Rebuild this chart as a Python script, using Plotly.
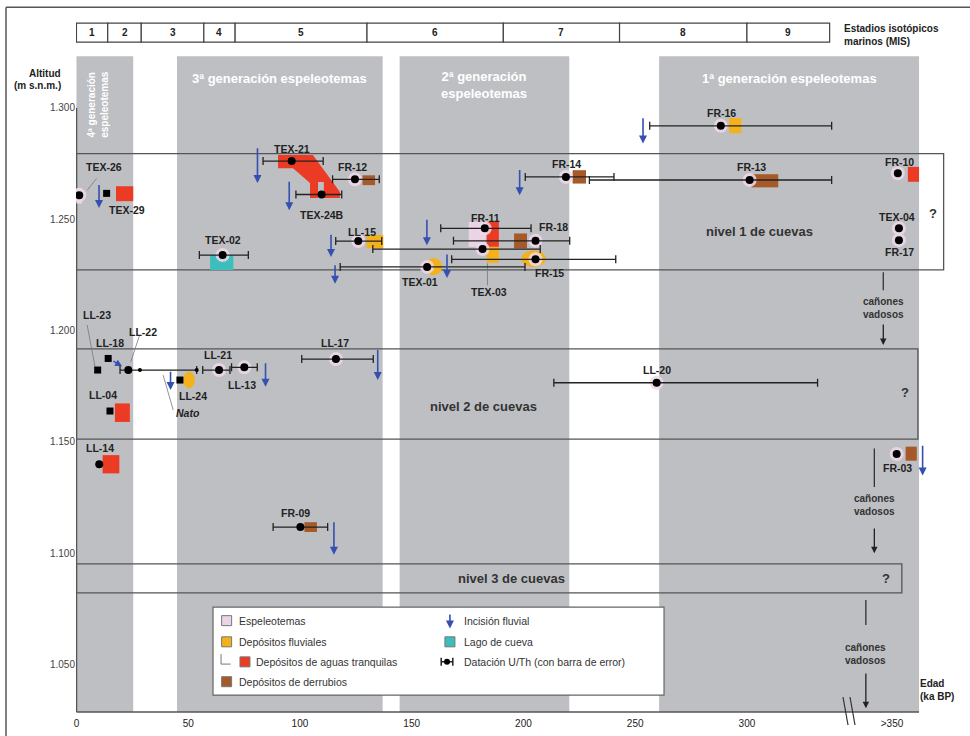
import plotly.graph_objects as go

FONT = "Liberation Sans, Arial, Helvetica, sans-serif"

# ---------------- data ----------------
mis_stage = ['1', '2', '3', '4', '5', '6', '7', '8', '9']
mis_bound = [0, 14, 29, 57, 71, 130, 191, 243, 300, 337]

gen_label = ['4ª generación<br>espeleotemas', '3ª generación espeleotemas',
             '2ª generación<br>espeleotemas', '1ª generación espeleotemas']
gen_start = [0, 45, 144.6, 260.7]
gen_end = [25.4, 137, 220.5, 377]

level_label = ['nivel 1 de cuevas', 'nivel 2 de cuevas', 'nivel 3 de cuevas']
level_low = [1227.3, 1151.3, 1082.3]
level_high = [1279.4, 1191.8, 1095.3]
level_end = [388, 376.5, 369.3]
level_label_age = [305.4, 182.3, 194.6]
level_label_alt = [1244.3, 1166.1, 1088.8]
level_q_age = [383.1, 370.7, 362.2]
level_q_alt = [1252.6, 1172.1, 1088.8]

# U/Th dated samples: age (ka), altitude (m), error range (ka)
dated_name = ['TEX-26', 'TEX-21', 'TEX-24B', 'FR-12', 'TEX-02', 'LL-15', 'FR-16', 'FR-14', 'FR-13',
              'FR-10', 'TEX-04', 'FR-17', 'FR-11', 'FR-18', 'TEX-03', 'FR-15', 'TEX-01',
              'LL-22', 'LL-21', 'LL-13', 'LL-17', 'LL-20', 'LL-14', 'FR-03', 'FR-09']
dated_age = [1.25, 96.3, 109.7, 124.6, 65.4, 126.1, 288.3, 219, 301.2,
             367.5, 368, 368, 182.7, 205.4, 181.7, 205.4, 156.9,
             23.2, 63.8, 75.1, 116.1, 259.6, 10.2, 367, 100.2]
dated_alt = [1260.8, 1276.1, 1261.1, 1267.9, 1233.9, 1240.2, 1291.9, 1269, 1267.6,
             1270.6, 1245.9, 1240.6, 1245.9, 1240.3, 1236.6, 1232, 1228.6,
             1182.3, 1182.3, 1183.5, 1187.2, 1176.6, 1140, 1144.6, 1111.8]
dated_min = [None, 83.5, 98.2, 114.6, 55, 116, 256.5, 200.8, 229.5,
             None, None, None, 163, 168.7, 132.6, 167.9, 118,
             19.5, 56.5, 69.4, 100.8, 213.6, None, None, 88]
dated_max = [None, 110.4, 118.7, 135.5, 76.9, 136.6, 337.9, 240.5, 337.9,
             None, None, None, 203.4, 220.7, 207.5, 241.3, 200.7,
             53.8, 68.7, 80.9, 132.8, 331.6, None, None, 112.4]
dated_halo = [1, 0, 0, 1, 1, 1, 1, 1, 1, 1, 1, 1, 1, 1, 1, 1, 1, 0, 1, 1, 1, 1, 0, 1, 0]

small_dot_age = [28.4, 53.8]
small_dot_alt = [1182.3, 1182.3]

# other dated samples (square symbol)
square_name = ['TEX-29', 'LL-23', 'LL-18', 'LL-24', 'LL-04']
square_age = [13.5, 9.5, 14.2, 46.3, 15]
square_alt = [1261.6, 1182.3, 1187.5, 1177.8, 1163.9]

# sample labels
label_name = ['TEX-26', 'TEX-29', 'TEX-21', 'TEX-24B', 'FR-12', 'TEX-02', 'LL-15', 'FR-16', 'FR-14',
              'FR-13', 'FR-10', 'TEX-04', 'FR-17', 'FR-11', 'FR-18', 'TEX-03', 'FR-15', 'TEX-01',
              'LL-23', 'LL-18', 'LL-22', 'LL-21', 'LL-13', 'LL-24', 'LL-17', 'LL-20', 'LL-04',
              'LL-14', 'FR-03', 'FR-09']
label_age = [12.3, 22.5, 96.4, 109.7, 123.7, 65.4, 127.6, 288.6, 219.4,
             302.1, 368.4, 367.1, 368.1, 183.1, 213.5, 184.7, 211.8, 153.5,
             9, 15, 29.9, 63.4, 73.9, 52.3, 115.7, 259.6, 12,
             10.5, 367.2, 97.9]
label_alt = [1273.5, 1254.3, 1281.5, 1251.8, 1273.5, 1240.6, 1244.3, 1297.5, 1275,
             1273.5, 1275.8, 1251.1, 1235.4, 1250.4, 1246.6, 1217.4, 1225.9, 1221.9,
             1207, 1194.5, 1199.5, 1189, 1175.5, 1170.7, 1194.3, 1182.3, 1171,
             1147.1, 1138.2, 1118.3]

# leader lines (age0, alt0, age1, alt1)
leader_age0 = [9, 183.9, 4.8, 28.1, 43.3]
leader_alt0 = [1268.3, 1230.2, 1202.5, 1197.5, 1164.3]
leader_age1 = [4.8, 183.9, 8.3, 24.3, 38.8]
leader_alt1 = [1263, 1220.4, 1183.8, 1186, 1180]

# deposits: kind, age range, altitude range, shape
dep_kind = ['red', 'red', 'red', 'red', 'red',
            'brown', 'brown', 'brown', 'brown', 'brown', 'brown',
            'orange', 'orange', 'orange', 'orange', 'orange', 'orange',
            'teal', 'pink', 'pink']
dep_age0 = [17.7, 372, 183.6, 17.2, 11.7, 128, 222, 302, 195.8, 371, 102,
            129.8, 292, 183.6, 199, 156, 47.8, 59.8, 175.5, 0]
dep_age1 = [25.4, 377, 189, 23.9, 19.2, 133.6, 228, 314, 201.6, 376, 107.6,
            137.3, 297.5, 189, 210, 163.6, 53, 70.2, 183.1, 2.5]
dep_alt0 = [1258.1, 1266.8, 1237.6, 1159, 1135.9, 1265.3, 1266, 1264.3, 1236.9, 1141.6, 1109.6,
            1237, 1288.6, 1230.4, 1228.6, 1224.9, 1174, 1227.2, 1237.6, 1257]
dep_alt1 = [1264.8, 1273.5, 1248.8, 1167.3, 1144.1, 1269.7, 1272, 1270.2, 1243.6, 1147.9, 1114,
            1242.9, 1295.4, 1237.6, 1236, 1232.5, 1181.5, 1233.9, 1248.8, 1264]
dep_shape = ['rect'] * 14 + ['circle', 'circle', 'circle', 'rect', 'rect', 'rect']

# still-water deposit band TEX-21 -> TEX-24B
band_age = [90.2, 105.8, 117.9, 117.9, 110.7, 110.7, 108.1, 108.1, 104.5, 104.5, 96.9, 90.2]
band_alt = [1278.8, 1278.8, 1262.2, 1259.5, 1259.5, 1266.7, 1266.7, 1259.5, 1259.5, 1266.2, 1272.9, 1272.9]

# fluvial incision arrows
inc_age = [10.1, 81, 95.2, 113.9, 115.7, 253.5, 198.3, 156.8, 165.8, 42.1, 84.6, 134.8, 378.6, 115.2]
inc_top = [1266, 1282.5, 1267.5, 1243.7, 1230, 1296, 1272.8, 1250.4, 1234.8, 1182.2, 1186, 1192, 1149, 1114.6]
inc_bot = [1255, 1266.2, 1254, 1233, 1221, 1284, 1260.8, 1238.3, 1223.6, 1173.3, 1174.8, 1177.8, 1135, 1099.4]
inc_diag_from = (15.9, 1186.7)
inc_diag_to = (20.4, 1184.0)

# vadose canyons
can_age = [361, 357, 353.2]
can_line_top = [1226.2, 1147.1, 1079.1]
can_line_bot = [1218.1, 1129.8, 1067.9]
can_text_alt = [1210.3, 1121.5, 1054.8]
can_arrow_top = [1203.4, 1111.8, 1046.7]
can_arrow_bot = [1193.5, 1100.1, 1030.5]

age_ticks = [0, 50, 100, 150, 200, 250, 300, 364.9]
age_ticktext = ['0', '50', '100', '150', '200', '250', '300', '>350']
alt_ticks = [1050, 1100, 1150, 1200, 1250, 1300]
alt_ticktext = ['1.050', '1.100', '1.150', '1.200', '1.250', '1.300']

AXIS_BOTTOM = 1028.8
BAND_TOP = 1323.2
AXIS_END = 377
HEADER_LOW, HEADER_HIGH = 1329.5, 1338.0

# ---------------- styles ----------------
GRAY = '#bdbfc3'
COL = {'red': '#ec3b24', 'brown': '#a65a2a', 'orange': '#f3b21b', 'teal': '#3dbdbb', 'pink': '#ead4e6'}
BLUE = '#3550b0'
DARK = '#222222'

shapes = []
ann = []


def txt(text, x, y, size=10.5, color=DARK, bold=True, xanchor='center', xref='x', yref='y', **kw):
    t = f"<b>{text}</b>" if bold else text
    ann.append(dict(text=t, x=x, y=y, xref=xref, yref=yref, showarrow=False, xanchor=xanchor,
                    yanchor='middle', font=dict(family=FONT, size=size, color=color), **kw))


def line(x0, y0, x1, y1, color='#444', width=1.2, xref='x', yref='y'):
    shapes.append(dict(type='line', x0=x0, y0=y0, x1=x1, y1=y1, xref=xref, yref=yref,
                       line=dict(color=color, width=width), layer='below'))


def arrow(x, y_from, y_to, color, width=1.5, x_from=None, head=2):
    ann.append(dict(x=x, y=y_to, ax=x if x_from is None else x_from, ay=y_from, xref='x', yref='y',
                    axref='x', ayref='y', text='', showarrow=True, arrowhead=head, arrowsize=1,
                    arrowwidth=width, arrowcolor=color, standoff=0, startstandoff=0))


# generation bands
for s, e in zip(gen_start, gen_end):
    shapes.append(dict(type='rect', x0=s, x1=e, y0=AXIS_BOTTOM, y1=BAND_TOP, xref='x', yref='y',
                       fillcolor=GRAY, line=dict(width=0), layer='below'))
txt(gen_label[0], 9.8, 1301.5, size=10, color='white', textangle=-90)
txt(gen_label[1], (gen_start[1] + gen_end[1]) / 2, 1313.3, size=13, color='white')
txt(gen_label[2], (gen_start[2] + gen_end[2]) / 2, 1310.3, size=13, color='white')
txt(gen_label[3], (gen_start[3] + gen_end[3]) / 2, 1313.3, size=13, color='white')

# MIS header
for i, st in enumerate(mis_stage):
    shapes.append(dict(type='rect', x0=mis_bound[i], x1=mis_bound[i + 1], y0=HEADER_LOW, y1=HEADER_HIGH,
                       xref='x', yref='y', fillcolor='white', line=dict(color='#444', width=1.2), layer='below'))
    txt(st, (mis_bound[i] + mis_bound[i + 1]) / 2, (HEADER_LOW + HEADER_HIGH) / 2, size=10)
txt('Estadios isotópicos', 342.5, 1335.8, size=10, xanchor='left')
txt('marinos (MIS)', 342.5, 1329.9, size=10, xanchor='left')

# cave levels
for lo, hi, en in zip(level_low, level_high, level_end):
    shapes.append(dict(type='rect', x0=0, x1=en, y0=lo, y1=hi, xref='x', yref='y',
                       line=dict(color='#555', width=1.3), fillcolor='rgba(0,0,0,0)', layer='below'))
for lab, a, h in zip(level_label, level_label_age, level_label_alt):
    txt(lab, a, h, size=13, color='#333')
for a, h in zip(level_q_age, level_q_alt):
    txt('?', a, h, size=13, color='#333')

# axes lines
line(0, AXIS_BOTTOM, 0, 1300, color='#555', width=1.6)
line(0, AXIS_BOTTOM, AXIS_END, AXIS_BOTTOM, color='#555', width=1.6)
# axis break marks (paper coordinates)
for x0 in (843, 850):
    shapes.append(dict(type='line', xref='paper', yref='paper', x0=(x0 - 76) / 894, y0=(716 - 697) / 716,
                       x1=(x0 + 5 - 76) / 894, y1=(716 - 725) / 716, line=dict(color='#333', width=1.2)))

# frame
shapes.append(dict(type='line', xref='paper', yref='paper', x0=-0.0783, x1=-0.0783, y0=0.990, y1=-0.03,
                   line=dict(color='#555', width=1.5)))
shapes.append(dict(type='line', xref='paper', yref='paper', x0=-0.0783, x1=1.0, y0=0.990, y1=0.990,
                   line=dict(color='#555', width=1.5)))

# deposits
for k, a0, a1, h0, h1, sh in zip(dep_kind, dep_age0, dep_age1, dep_alt0, dep_alt1, dep_shape):
    shapes.append(dict(type=sh, x0=a0, x1=a1, y0=h0, y1=h1, xref='x', yref='y',
                       fillcolor=COL[k], line=dict(width=0), layer='below'))

# leader lines
for a0, h0, a1, h1 in zip(leader_age0, leader_alt0, leader_age1, leader_alt1):
    line(a0, h0, a1, h1, color='#777', width=0.8)

# canyons
for a, lt, lb, ta, at, ab in zip(can_age, can_line_top, can_line_bot, can_text_alt, can_arrow_top, can_arrow_bot):
    line(a, lt, a, lb, color='#333', width=1.3)
    txt('cañones<br>vadosos', a, ta, size=10, color='#333')
    arrow(a, at, ab, '#222', width=1.3)

# incision arrows
for a, t, b in zip(inc_age, inc_top, inc_bot):
    arrow(a, t, b, BLUE, width=1.6)
arrow(inc_diag_to[0], inc_diag_from[1], inc_diag_to[1], BLUE, width=1.4, x_from=inc_diag_from[0])

# legend box
shapes.append(dict(type='rect', x0=61.1, x1=262.9, y0=1036.4, y1=1075.9, xref='x', yref='y',
                   fillcolor='white', line=dict(color='#666', width=1.2), layer='below'))

fig = go.Figure()

# still-water band
fig.add_trace(go.Scatter(x=band_age, y=band_alt, fill='toself', fillcolor=COL['red'], mode='lines',
                         line=dict(width=0, color=COL['red']), hoverinfo='skip', showlegend=False))

# halos
hx = [a for a, f in zip(dated_age, dated_halo) if f]
hy = [h for h, f in zip(dated_alt, dated_halo) if f]
fig.add_trace(go.Scatter(x=hx, y=hy, mode='markers', marker=dict(size=14, color='rgba(238,216,234,0.85)'),
                         hoverinfo='skip', showlegend=False))

# dated with error bars
ex, ey, ep, em = [], [], [], []
nx, ny = [], []
for a, h, lo, hi in zip(dated_age, dated_alt, dated_min, dated_max):
    if lo is None:
        nx.append(a); ny.append(h)
    else:
        ex.append(a); ey.append(h); ep.append(hi - a); em.append(a - lo)
fig.add_trace(go.Scatter(x=ex, y=ey, mode='markers', marker=dict(size=8, color='black'),
                         error_x=dict(type='data', symmetric=False, array=ep, arrayminus=em,
                                      color='#222', thickness=1.3, width=4),
                         showlegend=False, hoverinfo='skip'))
fig.add_trace(go.Scatter(x=nx, y=ny, mode='markers', marker=dict(size=8, color='black'),
                         showlegend=False, hoverinfo='skip'))
fig.add_trace(go.Scatter(x=small_dot_age, y=small_dot_alt, mode='markers', marker=dict(size=4, color='black'),
                         showlegend=False, hoverinfo='skip'))
fig.add_trace(go.Scatter(x=square_age, y=square_alt, mode='markers',
                         marker=dict(size=7, color='black', symbol='square'),
                         showlegend=False, hoverinfo='skip'))

# sample labels
for n, a, h in zip(label_name, label_age, label_alt):
    txt(n, a, h, size=10.5)
txt('<i>Nato</i>', 50, 1162.8, size=10.5)

# legend glyphs
leg_sw_x = [67.2, 67.2, 75.4, 67.2, 167.1]
leg_sw_y = [1069.8, 1060.3, 1051.3, 1042.4, 1060.3]
leg_sw_c = [COL['pink'], COL['orange'], COL['red'], COL['brown'], COL['teal']]
fig.add_trace(go.Scatter(x=leg_sw_x, y=leg_sw_y, mode='markers',
                         marker=dict(size=10, symbol='square', color=leg_sw_c, line=dict(color='#777', width=1)),
                         showlegend=False, hoverinfo='skip'))
fig.add_trace(go.Scatter(x=[165.8], y=[1051.3], mode='markers', marker=dict(size=6, color='black'),
                         error_x=dict(type='data', array=[2.6], color='#222', thickness=1.5, width=4),
                         showlegend=False, hoverinfo='skip'))
line(64.7, 1054.8, 64.7, 1050.3, color='#777', width=1)
line(64.7, 1050.3, 69.0, 1050.3, color='#777', width=1)
arrow(167.1, 1073.2, 1066.3, BLUE, width=1.6)
leg_text = ['Espeleotemas', 'Depósitos fluviales', 'Depósitos de aguas tranquilas', 'Depósitos de derrubios',
            'Incisión fluvial', 'Lago de cueva', 'Datación U/Th (con barra de error)']
leg_tx = [71.7, 71.7, 79.4, 71.7, 172.6, 172.6, 172.6]
leg_ty = [1069.8, 1060.3, 1051.3, 1042.4, 1069.8, 1060.3, 1051.3]
for t, x, y in zip(leg_text, leg_tx, leg_ty):
    txt(t, x, y, size=10.5, color='#333', bold=False, xanchor='left')

# axis titles
txt('Altitud', -0.0145, 1315.6, size=10, xanchor='right', xref='paper')
txt('(m s.n.m.)', -0.0145, 1310.2, size=10, xanchor='right', xref='paper')
txt('Edad', 376.5, 1041.7, size=10, xanchor='left')
txt('(ka BP)', 376.5, 1035.9, size=10, xanchor='left')

fig.update_layout(
    width=970, height=736,
    margin=dict(l=76, r=0, t=0, b=20),
    plot_bgcolor='white', paper_bgcolor='white',
    shapes=shapes, annotations=ann, showlegend=False,
    xaxis=dict(range=[-0.2, 399.8], showgrid=False, zeroline=False, showline=False,
               tickvals=age_ticks, ticktext=age_ticktext, ticks='',
               tickfont=dict(family=FONT, size=10, color='#222')),
    yaxis=dict(range=[1027.0, 1348.4], showgrid=False, zeroline=False, showline=False,
               tickvals=alt_ticks, ticktext=alt_ticktext, ticks='',
               tickfont=dict(family=FONT, size=10, color='#444')),
)
fig.update_xaxes(tickprefix='<b>', ticksuffix='</b>')
fig.update_yaxes(tickprefix='<b>', ticksuffix='</b>')

fig.write_html("out.html", config={'displayModeBar': False},
               post_script="document.body.style.margin='0px';document.body.style.overflow='hidden';")
